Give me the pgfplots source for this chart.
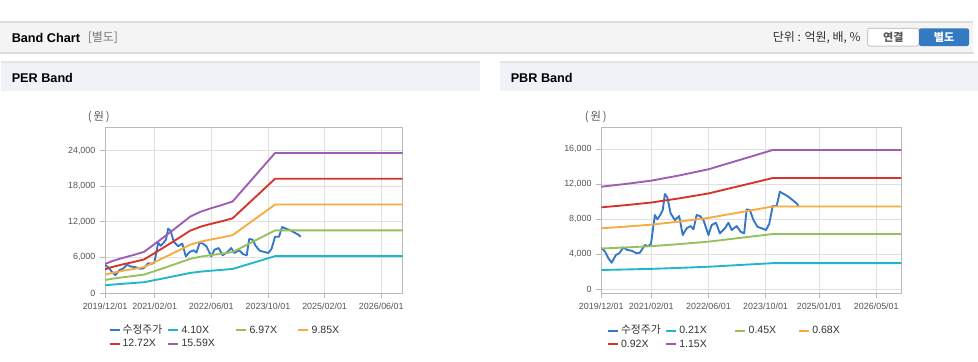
\documentclass[border=0pt]{standalone}
\usepackage{fontspec}
\setmainfont{Liberation Sans}
\newfontfamily\kr{Noto Sans CJK KR}
\usepackage{pgfplots}
\usepackage{pgfplotstable}
\pgfplotsset{compat=1.18}

\definecolor{pricec}{RGB}{52,118,200}
\definecolor{cyanc}{RGB}{32,182,204}
\definecolor{greenc}{RGB}{150,192,92}
\definecolor{orangec}{RGB}{246,172,62}
\definecolor{redc}{RGB}{214,52,42}
\definecolor{purplec}{RGB}{158,92,178}
\definecolor{axisgray}{RGB}{185,185,185}
\definecolor{gridgray}{RGB}{224,224,224}
\definecolor{labelgray}{RGB}{85,85,85}
\definecolor{legtext}{RGB}{51,51,51}
\definecolor{bargray}{RGB}{244,244,244}
\definecolor{shadowgray}{RGB}{220,220,220}
\definecolor{topline}{RGB}{222,222,222}
\definecolor{hdrbg}{RGB}{239,242,247}
\definecolor{hdrtop}{RGB}{226,230,235}
\definecolor{btnblue}{RGB}{52,122,194}
\definecolor{btngray}{RGB}{200,200,200}
\definecolor{btntext}{RGB}{90,90,90}
\definecolor{bracketgray}{RGB}{120,120,120}

% adjusted price (m = months since 2019/12/01)
\pgfplotstableread{
m v
0.0 4700
1.0 4300
2.0 3500
2.9 3010
4.1 3890
5.0 4080
6.2 4760
7.3 4460
8.5 4380
9.9 4080
10.8 4150
12.2 5030
13.1 4910
13.9 5140
15.0 8460
15.7 7960
16.5 8460
17.2 9030
17.8 10860
18.5 10480
19.4 8650
20.6 7890
21.8 8340
22.8 6170
23.9 6940
25.0 7200
25.8 6820
26.7 8460
27.6 8340
28.6 7890
30.0 6170
30.9 7310
32.1 7580
33.2 6360
34.6 6940
35.6 7580
36.5 6740
37.9 7200
39.0 6550
40.0 6360
40.7 9100
41.6 9030
42.6 7890
43.7 7120
44.9 6940
46.1 6740
47.0 7430
48.0 9490
49.1 9490
50.0 11120
52.4 10550
54.7 9790
55.2 9490
}\pricetab

% PER bands
\pgfplotstableread{
m c g o r p
0 1287 2189 3093 3994 4895
2 1415 2405 3398 4388 5379
5 1558 2649 3743 4834 5924
8 1685 2865 4048 5228 6407
11 1825 3102 4383 5660 6938
14 2173 3694 5221 6742 8263
18 2649 4503 6363 8217 10071
21 3014 5123 7240 9349 11459
24 3387 5757 8136 10507 12877
27 3608 6134 8668 11194 13719
30 3764 6398 9042 11677 14312
33 3903 6635 9377 12109 14842
36 4059 6900 9752 12593 15434
40 4777 8120 11475 14819 18162
44 5494 9340 13199 17045 20891
48 6212 10560 14923 19271 23619
84 6212 10560 14923 19271 23619
}\pertab

% PBR bands
\pgfplotstableread{
m c g o r p
0 2176 4627 6946 9336 11696
7 2236 4755 7137 9593 12018
14 2305 4900 7356 9887 12386
22 2418 5142 7718 10373 12995
30 2547 5415 8128 10924 13685
38 2729 5801 8708 11705 14663
43 2842 6042 9070 12191 15272
48 2957 6288 9439 12687 15893
84 2957 6288 9439 12687 15893
}\pbrtab

\pgfplotsset{
  bandaxis/.style={
    scale only axis, anchor=south west,
    xmin=0, xmax=84,
    axis line style={draw=axisgray, line width=0.75pt},
    grid=major, major grid style={draw=gridgray, line width=0.6pt},
    tick align=outside, major tick length=3.75pt,
    tick style={draw=axisgray, line width=0.6pt},
    tick pos=left,
    ticklabel style={font=\fontsize{6.7}{7}\selectfont, text=labelgray},
    /pgf/number format/assume math mode=true,
    yticklabel style={/pgf/number format/fixed, /pgf/number format/1000 sep={,}},
    scaled y ticks=false,
    every axis plot/.append style={line width=1.4pt, line join=round},
    legend columns=4,
    legend cell align=left,
    legend image code/.code={\draw[##1, line width=1.5pt] (0pt,0pt) -- (7.5pt,0pt);},
    legend style={draw=none, fill=none, text=legtext,
      font=\fontsize{7.9}{8}\selectfont,
      inner sep=0pt, column sep=0pt, row sep=2.5pt,
      nodes={inner sep=0pt, text height=6pt, text depth=1.5pt}},
  }
}

\begin{document}
\begin{tikzpicture}
\useasboundingbox (0,0) rectangle (733.5pt,-270.75pt);
\begin{scope}[x=0.75pt,y=-0.75pt]
\fill[white] (0,0) rectangle (978,361);
% top bar
\fill[shadowgray] (0,52) rectangle (974,54);
\fill[bargray] (0,22) rectangle (973,52);
\fill[topline] (0,21) rectangle (973,22.5);
\node[anchor=west, inner sep=0pt, font=\bfseries\fontsize{9.5}{11}\selectfont] at (11.5,38) {Band Chart};
\node[anchor=west, inner sep=0pt, text=bracketgray, font=\kr\fontsize{9}{11}\selectfont] at (87.5,38) {[별도]};
\node[anchor=east, inner sep=0pt, text=legtext, font=\kr\fontsize{9}{11}\selectfont] at (861,38) {단위 : 억원, 배, \%};
\draw[fill=white, draw=btngray, line width=0.75pt, rounded corners=1.5] (867.7,28.3) rectangle (919,46);
\node[font=\kr\bfseries\fontsize{8.3}{9}\selectfont, text=btntext] at (893.3,37.2) {연결};
\fill[btnblue, rounded corners=1.5] (919,28.3) rectangle (969,46);
\node[font=\kr\bfseries\fontsize{8.3}{9}\selectfont, text=white] at (944,37.2) {별도};
% panel headers
\fill[hdrbg] (1,61) rectangle (480,91);
\fill[hdrtop] (1,61) rectangle (480,63);
\fill[hdrbg] (500,61) rectangle (978,91);
\fill[hdrtop] (500,61) rectangle (978,63);
\node[anchor=west, inner sep=0pt, font=\bfseries\fontsize{9.5}{11}\selectfont] at (11.5,78) {PER Band};
\node[anchor=west, inner sep=0pt, font=\bfseries\fontsize{9.5}{11}\selectfont] at (510.5,78) {PBR Band};
% unit labels
\node[font=\kr\fontsize{8.5}{9}\selectfont, text=labelgray] at (98.8,116.7) {(\,원\,)};
\node[font=\kr\fontsize{8.5}{9}\selectfont, text=labelgray] at (595.8,116.7) {(\,원\,)};
\end{scope}

% PER Band
\begin{axis}[bandaxis,
  at={(78.83pt,-219.75pt)}, width=223.05pt, height=124.5pt,
  ymin=0, ymax=28000, ytick={0,6000,12000,18000,24000},
  xtick={0,14,30,46,62,78},
  xticklabels={2019/12/01,2021/02/01,2022/06/01,2023/10/01,2025/02/01,2026/06/01},
  legend style={at={(0.0108,-0.193)}, anchor=north west}]
\addplot[pricec] table[x=m,y=v]{\pricetab};
\addlegendentry{\makebox[35pt][l]{\hspace{1.5pt}{\kr\fontsize{8.1}{8}\selectfont 수정주가}}}
\addplot[cyanc] table[x=m,y=c]{\pertab};
\addlegendentry{\makebox[42pt][l]{\hspace{1.75pt}4.10X}}
\addplot[greenc] table[x=m,y=g]{\pertab};
\addlegendentry{\makebox[37.55pt][l]{\hspace{1.75pt}6.97X}}
\addplot[orangec] table[x=m,y=o]{\pertab};
\addlegendentry{\makebox[30pt][l]{\hspace{1.75pt}9.85X}}
\addplot[redc] table[x=m,y=r]{\pertab};
\addlegendentry{\hspace{1.5pt}12.72X}
\addplot[purplec] table[x=m,y=p]{\pertab};
\addlegendentry{\hspace{1.75pt}15.59X}
\end{axis}

% PBR Band
\begin{axis}[bandaxis,
  at={(450.98pt,-220.05pt)}, width=225pt, height=124.69pt,
  ymin=-500, ymax=18500, ytick={0,4000,8000,12000,16000},
  xtick={0,14,30,46,61,77},
  xticklabels={2019/12/01,2021/02/01,2022/06/01,2023/10/01,2025/01/01,2026/05/01},
  legend style={at={(0.0181,-0.193)}, anchor=north west}]
\addplot[pricec] table[x=m,y=v]{\pricetab};
\addlegendentry{\makebox[34.5pt][l]{\hspace{1.5pt}{\kr\fontsize{8.1}{8}\selectfont 수정주가}}}
\addplot[cyanc] table[x=m,y=c]{\pbrtab};
\addlegendentry{\makebox[43pt][l]{\hspace{1.75pt}0.21X}}
\addplot[greenc] table[x=m,y=g]{\pbrtab};
\addlegendentry{\makebox[38.75pt][l]{\hspace{1.75pt}0.45X}}
\addplot[orangec] table[x=m,y=o]{\pbrtab};
\addlegendentry{\makebox[30pt][l]{\hspace{1.75pt}0.68X}}
\addplot[redc] table[x=m,y=r]{\pbrtab};
\addlegendentry{\hspace{1.5pt}0.92X}
\addplot[purplec] table[x=m,y=p]{\pbrtab};
\addlegendentry{\hspace{1.75pt}1.15X}
\end{axis}
\end{tikzpicture}
\end{document}
